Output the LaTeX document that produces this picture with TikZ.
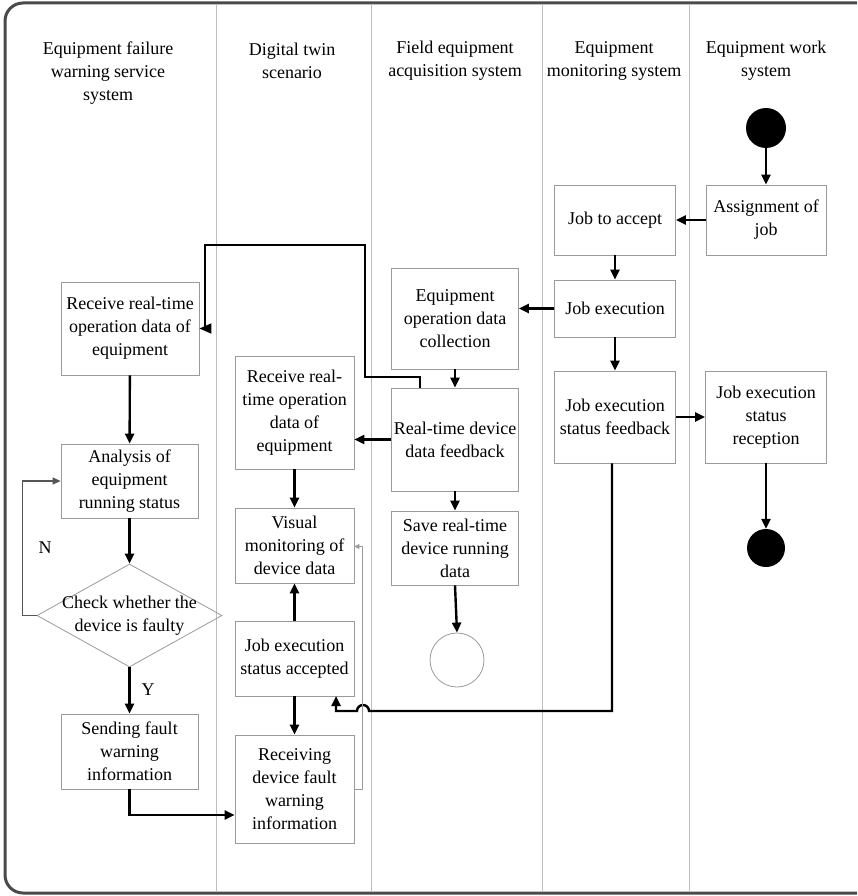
\documentclass[tikz,border=0pt]{standalone}
\usepackage{fontspec}
\setmainfont{Liberation Serif}
\usetikzlibrary{arrows.meta,shapes.geometric}

\definecolor{framegray}{HTML}{4A4A4A}
\definecolor{boxgray}{HTML}{9A9A9A}
\definecolor{lanegray}{HTML}{BDBDBD}
\definecolor{loopgray}{HTML}{555555}

\begin{document}
\begin{tikzpicture}[x=1pt,y=-1pt,
	font=\fontsize{18}{23}\selectfont,
	box/.style={draw=boxgray, line width=0.8pt, align=center, inner sep=0pt, fill=white},
	flow/.style={line width=2.4pt, -{Triangle[length=10pt,width=9pt]}},
	thinflow/.style={line width=1.2pt, draw=loopgray, -{Triangle[length=8pt,width=7pt]}},
	faintflow/.style={line width=0.9pt, draw=boxgray, -{Triangle[length=5pt,width=5pt]}}]
			\useasboundingbox (0,0) rectangle (857,896);
			\clip (0,0) rectangle (857,896);
			% frame and swimlanes
			\draw[framegray, line width=3pt, rounded corners=18pt] (5,3) rectangle (885,893);
			\foreach \lx in {216,371,542,689}
				\draw[lanegray, line width=0.8pt] (\lx,4.5) -- (\lx,891.5);
			\node[align=center] (head1) at (108,73) {Equipment failure\\warning service\\system};
			\node[align=center] (head2) at (292,61) {Digital twin\\scenario};
			\node[align=center] (head3) at (455,61) {Field equipment\\acquisition system};
			\node[align=center] (head4) at (614,61) {Equipment\\monitoring system};
			\node[align=center] (head5) at (766,61) {Equipment work\\system};
			% equipment work system
			\node[circle, fill=black, minimum size=40, inner sep=0pt] (start) at (766,128) {};
			\node[box, minimum width=120, minimum height=70] (assign) at (766,220) {Assignment of\\job};
			\node[box, minimum width=121, minimum height=92] (reception) at (766,417) {Job execution\\status\\reception};
			\node[circle, fill=black, minimum size=38, inner sep=0pt] (finish) at (766,548) {};
			% equipment monitoring system
			\node[box, minimum width=121, minimum height=70] (jobaccept) at (615,220) {Job to accept};
			\node[box, minimum width=121, minimum height=57] (jobexec) at (615,308.5) {Job execution};
			\node[box, minimum width=121, minimum height=92] (feedback) at (615,417) {Job execution\\status feedback};
			% field equipment acquisition system
			\node[box, minimum width=127, minimum height=101] (collect) at (455,318.5) {Equipment\\operation data\\collection};
			\node[box, minimum width=127, minimum height=103] (rtfb) at (455,439.5) {Real-time device\\data feedback};
			\node[box, minimum width=127, minimum height=74] (save) at (455,548) {Save real-time\\device running\\data};
			\node[circle, draw=boxgray, line width=0.8pt, minimum size=54, inner sep=0pt] (sink) at (457,660) {};
			% digital twin scenario
			\node[box, minimum width=119, minimum height=113] (recv2) at (294.5,412.5) {Receive real-\\time operation\\data of\\equipment};
			\node[box, minimum width=119, minimum height=75] (visual) at (294.5,545.5) {Visual\\monitoring of\\device data};
			\node[box, minimum width=119, minimum height=75] (accepted) at (294.5,658.5) {Job execution\\status accepted};
			\node[box, minimum width=119, minimum height=108] (receiving) at (294.5,789) {Receiving\\device fault\\warning\\information};
			% equipment failure warning service system
			\node[box, minimum width=138, minimum height=93] (recv1) at (130,328.5) {Receive real-time\\operation data of\\equipment};
			\node[box, minimum width=137, minimum height=74] (analysis) at (129.5,481) {Analysis of\\equipment\\running status};
			\node[diamond, draw=boxgray, line width=0.8pt, minimum width=185, minimum height=103, inner sep=0pt] (check) at (129.5,615.5) {};
			\node[align=center] (checktext) at (check.center) {Check whether the\\device is faulty};
			\node[box, minimum width=137, minimum height=75] (sending) at (129.5,751.5) {Sending fault\\warning\\information};
			\node (nlabel) at (45,548) {N};
			\node (ylabel) at (148,690) {Y};
			% connectors
			\draw[flow] (start) -- (assign);
			\draw[flow] (assign) -- (jobaccept);
			\draw[flow] (jobaccept) -- (jobexec);
			\draw[flow] (jobexec.west) -- (jobexec.west -| collect.east);
			\draw[flow] (jobexec) -- (feedback);
			\draw[flow] (feedback.east) -- (feedback.east -| reception.west);
			\draw[flow] (reception) -- (finish);
			\draw[flow] (collect) -- (rtfb);
			\draw[flow] (rtfb.west) -- (rtfb.west -| recv2.east);
			\draw[flow] (rtfb) -- (save);
			\draw[flow] (save.south) -- (sink.north);
			\draw[flow, line width=1.8pt, -{Triangle[length=12pt,width=10pt]}] ([xshift=-35pt]rtfb.north) -- ++(0,-11) -| (365,245) -| (205,328.5) -- (recv1.east);
			\draw[flow] (recv1) -- (analysis);
			\draw[flow] (analysis) -- (check);
			\draw[flow] (check) -- (sending);
			\draw[thinflow] (check.west) -- ++(-14,0) |- (analysis.west);
			\draw[flow] (sending.south) |- ([yshift=-26pt]receiving.west);
			\draw[flow] (recv2) -- (visual);
			\draw[flow] (accepted) -- (visual);
			\draw[flow] (accepted) -- (receiving);
			\draw[flow] ([xshift=-3pt]feedback.south) -- (612,711) -- (369,711) arc[start angle=0, end angle=180, radius=6pt] -- (336,711) -- (336,696);
			\draw[faintflow] (receiving.east) -- ++(8,0) |- ([yshift=-1pt]visual.east);
			\end{tikzpicture}
\end{document}
